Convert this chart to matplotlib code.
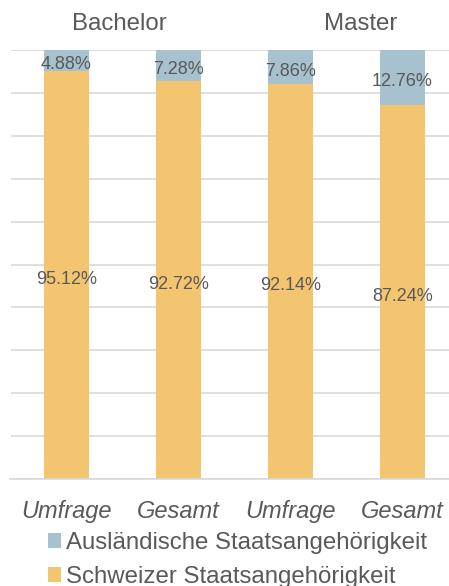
import matplotlib
matplotlib.use("Agg")
import matplotlib.pyplot as plt

categories = ["Umfrage", "Gesamt", "Umfrage", "Gesamt"]
groups = ["Bachelor", "Master"]
swiss = [95.12, 92.72, 92.14, 87.24]
foreign = [4.88, 7.28, 7.86, 12.76]
series_names = ["Ausländische Staatsangehörigkeit", "Schweizer Staatsangehörigkeit"]

plt.rcParams['font.family'] = ['Liberation Sans', 'DejaVu Sans']
text_col = "#595959"
c_swiss = "#f4c571"
c_foreign = "#a7c1cf"

fig = plt.figure(figsize=(4.49, 5.86), dpi=100)
ax = fig.add_axes([10.5/449, 1-479/586, 448/449, 429/586])

x = list(range(len(categories)))
b1 = ax.bar(x, swiss, width=0.40, color=c_swiss, zorder=2)
b2 = ax.bar(x, foreign, bottom=swiss, width=0.40, color=c_foreign, zorder=2)

for xi, s, f in zip(x, swiss, foreign):
    ax.annotate(f"{s:.2f}%", (xi, s/2), xytext=(0, -3), textcoords="offset points",
                ha="center", va="center", fontsize=13, color=text_col, zorder=3)
    ax.annotate(f"{f:.2f}%", (xi, s + f/2), xytext=(0, -3), textcoords="offset points",
                ha="center", va="center", fontsize=13, color=text_col, zorder=3)

ax.set_xlim(-0.5, 3.5)
ax.set_ylim(0, 100)
ax.set_yticks(range(0, 101, 10))
ax.yaxis.grid(True, color="#d9d9d9", linewidth=1.2, zorder=0)
ax.set_axisbelow(True)
ax.tick_params(axis="y", left=False, labelleft=False)
ax.set_xticks(x)
ax.set_xticklabels(categories, fontsize=17, style="italic", color=text_col)
ax.tick_params(axis="x", length=0, pad=15)
for sp in ["top", "right", "left"]:
    ax.spines[sp].set_visible(False)
ax.spines["bottom"].set_color("#d9d9d9")
ax.spines["bottom"].set_linewidth(1.2)

ax.text(0.469, 1.06, groups[0], transform=ax.get_xaxis_transform(), ha="center", va="center",
        fontsize=17.3, color=text_col)
ax.text(2.63, 1.06, groups[1], transform=ax.get_xaxis_transform(), ha="center", va="center",
        fontsize=17.3, color=text_col)

leg = fig.legend([b2, b1], series_names, loc="upper left", bbox_to_anchor=(48/449, 1-532/586),
                 frameon=False, fontsize=17.3, handlelength=0.55, handleheight=0.55,
                 handletextpad=0.2, labelspacing=0.5, borderaxespad=0, borderpad=0)
for t in leg.get_texts():
    t.set_color(text_col)

fig.savefig("out.png", dpi=100)
